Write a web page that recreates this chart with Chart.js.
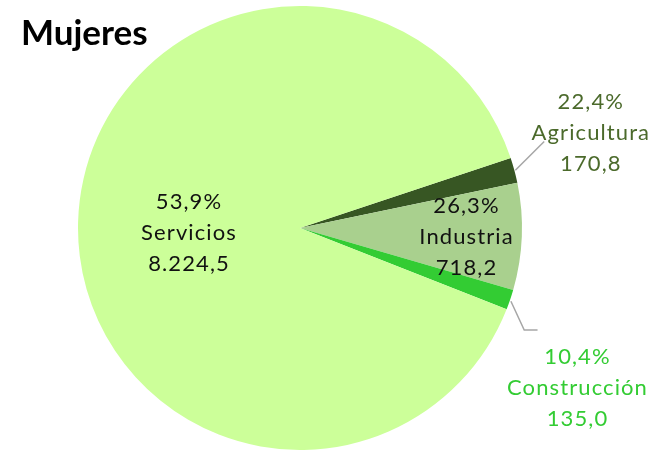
<!DOCTYPE html>
<html>
<head>
<meta charset="utf-8">
<script src="https://cdn.jsdelivr.net/npm/chart.js@4.4.0/dist/chart.umd.min.js"></script>
<style>
  html, body { margin: 0; padding: 0; background: #fff; }
  #wrap { width: 663px; height: 450px; position: relative; }
</style>
</head>
<body>
<div id="wrap"><canvas id="pie"></canvas></div>
<script>
// Data
const sectors = ["Agricultura", "Industria", "Construcción", "Servicios"];
const values = [170.8, 718.2, 135.0, 8224.5];
const shares = ["22,4%", "26,3%", "10,4%", "53,9%"];
const valueLabels = ["170,8", "718,2", "135,0", "8.224,5"];

const colors = ["#375623", "#a9d08e", "#33cc33", "#ccff99"];
const labelColors = ["#4b6a2b", "#111111", "#33cc33", "#111111"];

// label placement relative to pie centre, in units of radius
const labelPos = [
  { fx: 1.31, fy: -0.43, line: [[0.97, -0.26], [1.10, -0.39]] },
  { fx: 0.75, fy: 0.04 },
  { fx: 1.25, fy: 0.72, line: [[0.95, 0.33], [1.01, 0.46], [1.07, 0.46]] },
  { fx: -0.50, fy: 0.02 }
];

const labelPlugin = {
  id: "pieLabels",
  afterDatasetsDraw(chart) {
    const ctx = chart.ctx;
    const arc = chart.getDatasetMeta(0).data[0];
    const cx = arc.x, cy = arc.y, r = arc.outerRadius;
    ctx.save();
    labelPos.forEach((p, i) => {
      if (p.line) {
        ctx.strokeStyle = "#a6a6a6";
        ctx.lineWidth = 1.5;
        ctx.beginPath();
        p.line.forEach(([lx, ly], j) => {
          const x = cx + lx * r, y = cy + ly * r;
          if (j === 0) ctx.moveTo(x, y); else ctx.lineTo(x, y);
        });
        ctx.stroke();
      }
      const x = cx + p.fx * r, y = cy + p.fy * r;
      ctx.fillStyle = labelColors[i];
      ctx.font = "22px Lato";
      ctx.letterSpacing = "1.1px";
      ctx.textAlign = "center";
      ctx.textBaseline = "middle";
      ctx.fillText(shares[i], x, y - 31);
      ctx.fillText(sectors[i], x, y);
      ctx.fillText(valueLabels[i], x, y + 31);
    });
    // title
    ctx.fillStyle = "#000";
    ctx.font = "bold 35px Lato";
    ctx.letterSpacing = "0px";
    ctx.textAlign = "left";
    ctx.textBaseline = "alphabetic";
    ctx.fillText("Mujeres", 21, 45);
    ctx.restore();
  }
};

new Chart(document.getElementById("pie"), {
  type: "pie",
  data: {
    labels: sectors,
    datasets: [{
      data: values,
      backgroundColor: colors,
      borderWidth: 0
    }]
  },
  options: {
    responsive: true,
    maintainAspectRatio: false,
    animation: false,
    rotation: 71.6,
    layout: { padding: { left: 78, right: 141, top: 6, bottom: 0 } },
    plugins: {
      legend: { display: false },
      tooltip: { enabled: false }
    }
  },
  plugins: [labelPlugin]
});
</script>
</body>
</html>
